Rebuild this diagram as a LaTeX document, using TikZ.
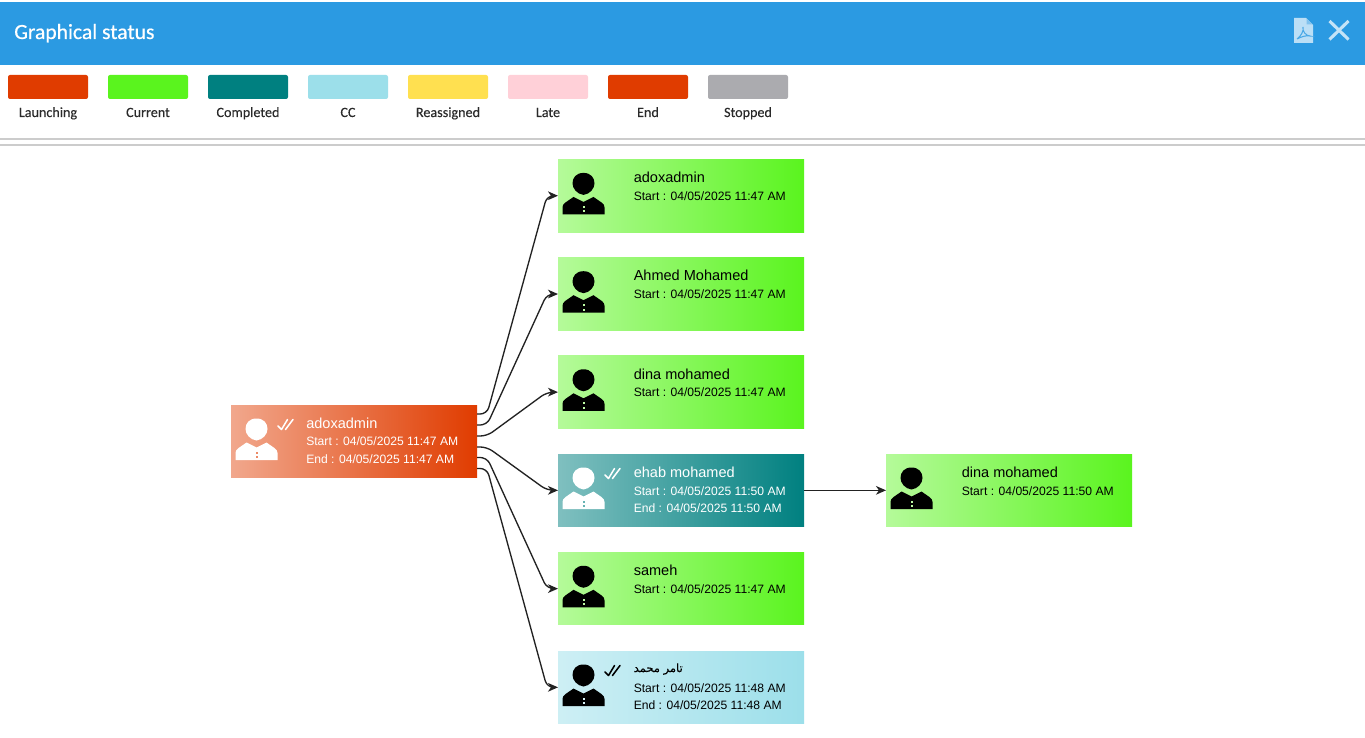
\documentclass[tikz,border=0pt]{standalone}
\usepackage{fontspec}
\setmainfont{Liberation Sans}
\newfontfamily\uifont[FakeBold=0.15]{Carlito}
\newfontfamily\titlefont[FakeBold=0.5]{Carlito}
\newfontfamily\arabicfont[Script=Arabic,FakeBold=0.2]{DejaVu Sans}
\TeXXeTstate=1
\usetikzlibrary{calc,arrows.meta}
\definecolor{hdr}{HTML}{2B9AE2}
\definecolor{cLaunch}{HTML}{E03C00}
\definecolor{cCurrent}{HTML}{5AF41E}
\definecolor{cDone}{HTML}{008080}
\definecolor{cCC}{HTML}{9CDFEA}
\definecolor{cRe}{HTML}{FFE050}
\definecolor{cLate}{HTML}{FFD0D8}
\definecolor{cStop}{HTML}{ABABAF}
\definecolor{ink}{HTML}{222222}
\definecolor{lbl}{HTML}{2A2A2A}
\tikzset{
  x=0.75pt,y=-0.75pt,
  swatch/.style={rectangle,rounded corners=1.5pt,minimum width=60pt,minimum height=18pt,inner sep=0,outer sep=0,anchor=north west},
  swatchlabel/.style={font=\uifont\fontsize{10.6pt}{12pt}\selectfont,text=lbl,inner sep=0,anchor=base},
  card/.style={rectangle,minimum width=184.5pt,minimum height=54.5pt,inner sep=0,outer sep=0,anchor=north west},
  launchcard/.style={card,left color=cLaunch!45!white,right color=cLaunch},
  currentcard/.style={card,left color=cCurrent!45!white,right color=cCurrent},
  donecard/.style={card,left color=cDone!50!white,right color=cDone},
  cccard/.style={card,left color=cCC!50!white,right color=cCC},
  cardname/.style={anchor=base west,inner sep=0,font=\fontsize{10.9pt}{12pt}\selectfont},
  carddate/.style={anchor=base west,inner sep=0,font=\fontsize{9.1pt}{11pt}\selectfont},
  conn/.style={ink,line width=1pt,-{Stealth[length=7.5pt,width=6.5pt,inset=2.2pt]}},
  elbow/.style={conn,rounded corners=5pt},
}
\newcommand\personicon[3]{%
  \begin{scope}[shift={(#1.north west)}]
    \fill[#2] (25.5,13.5) .. controls (33,13.5) and (36.5,18.5) .. (36.5,24)
      .. controls (36.5,29) and (32,34.8) .. (25.5,35.5)
      .. controls (19,34.8) and (14.5,29) .. (14.5,24)
      .. controls (14.5,18.5) and (18,13.5) .. (25.5,13.5) -- cycle;
    \fill[#2] (4.5,55) -- (4.5,48) .. controls (4.5,44) and (8,43) .. (15.5,37.5) -- (25.5,42.5) -- (35.5,37.5)
      .. controls (43,43) and (46.5,44) .. (46.5,48) -- (46.5,55) -- cycle;
    \fill[#3] (24.5,46.5) rectangle (26.5,48.5);
    \fill[#3] (24.5,51) rectangle (26.5,53);
  \end{scope}}
\newcommand\doublecheck[2]{%
  \begin{scope}[shift={(#1.north west)}]
    \draw[#2,line width=1.15pt,line cap=round,line join=round] (47,21) -- (50.5,24.5) -- (56.5,14.5);
    \draw[#2,line width=1.15pt,line cap=round] (54.5,24.5) -- (62,14.5);
  \end{scope}}
\begin{document}
\begin{tikzpicture}
\useasboundingbox (0,0) rectangle (1365,738);
\fill[white] (0,0) rectangle (1365,738);
% header
\fill[hdr] (0,2) rectangle (1365,65);
\node[anchor=base west,inner sep=0,text=white,font=\titlefont\fontsize{16.2pt}{18pt}\selectfont] (title) at (14,39) {Graphical status};
% pdf icon
\fill[white!68!hdr] (1294,18) -- (1306,18) -- (1313,25) -- (1313,43) -- (1294,43) -- cycle;
\fill[hdr!60!white] (1306.5,18.5) -- (1306.5,24.5) -- (1312.5,24.5) -- cycle;
\draw[hdr!85!white,line width=0.8pt] (1297,39) .. controls (1301,36) and (1304,31) .. (1303,27) .. controls (1302,31) and (1306,36) .. (1310,36) .. controls (1306,35) and (1301,37) .. (1297,39);
% close icon
\draw[white!72!hdr,line width=2.3pt] (1329.5,21) -- (1348.5,39.5) (1348.5,21) -- (1329.5,39.5);
% legend
\foreach \nm/\xx/\col/\txt in {a/8/cLaunch/Launching,b/108/cCurrent/Current,c/208/cDone/Completed,d/308/cCC/CC,e/408/cRe/Reassigned,f/508/cLate/Late,g/608/cLaunch/End,h/708/cStop/Stopped}{
  \node[swatch,fill=\col] (sw\nm) at (\xx,75) {};
  \node[swatchlabel] (lb\nm) at (\xx+40,117) {\txt};
}
% separators
\draw[black!20,line width=1.2pt] (0,139) -- (1365,139);
\draw[black!20,line width=1.2pt] (0,145) -- (1365,145);
% cards
\node[launchcard] (root) at (231,405) {};
\node[currentcard] (n1) at (558,159.4) {};
\node[currentcard] (n2) at (558,257.7) {};
\node[currentcard] (n3) at (558,355.8) {};
\node[donecard] (n4) at (558,454) {};
\node[currentcard] (n5) at (558,552.3) {};
\node[cccard] (n6) at (558,651) {};
\node[currentcard] (n7) at (886,454) {};
% icons
\personicon{root}{white}{cLaunch!60!white}
\doublecheck{root}{white}
\personicon{n1}{black}{cCurrent!40!white}
\personicon{n2}{black}{cCurrent!40!white}
\personicon{n3}{black}{cCurrent!40!white}
\personicon{n4}{white}{cDone!60!white}
\doublecheck{n4}{white}
\personicon{n5}{black}{cCurrent!40!white}
\personicon{n6}{black}{cCC!40!white}
\doublecheck{n6}{black}
\personicon{n7}{black}{cCurrent!40!white}
% texts
\node[cardname,text=white] (t0) at ($(root.north west)+(75,23)$) {adoxadmin};
\node[carddate,text=white] (s0) at ($(root.north west)+(75,40.8)$) {Start : 04/05/2025 11:47 AM};
\node[carddate,text=white] (e0) at ($(root.north west)+(75,58.3)$) {End : 04/05/2025 11:47 AM};
\node[cardname] (t1) at ($(n1.north west)+(75.5,23.3)$) {adoxadmin};
\node[carddate] (s1) at ($(n1.north west)+(75.5,41)$) {Start : 04/05/2025 11:47 AM};
\node[cardname] (t2) at ($(n2.north west)+(75.5,23)$) {Ahmed Mohamed};
\node[carddate] (s2) at ($(n2.north west)+(75.5,41)$) {Start : 04/05/2025 11:47 AM};
\node[cardname] (t3) at ($(n3.north west)+(75.5,23.3)$) {dina mohamed};
\node[carddate] (s3) at ($(n3.north west)+(75.5,41)$) {Start : 04/05/2025 11:47 AM};
\node[cardname,text=white] (t4) at ($(n4.north west)+(75.5,23)$) {ehab mohamed};
\node[carddate,text=white] (s4) at ($(n4.north west)+(75.5,41)$) {Start : 04/05/2025 11:50 AM};
\node[carddate,text=white] (e4) at ($(n4.north west)+(75.5,58.3)$) {End : 04/05/2025 11:50 AM};
\node[cardname] (t5) at ($(n5.north west)+(75.5,23.3)$) {sameh};
\node[carddate] (s5) at ($(n5.north west)+(75.5,41)$) {Start : 04/05/2025 11:47 AM};
\node[cardname,font=\arabicfont\fontsize{8.6pt}{10pt}\selectfont] (t6) at ($(n6.north west)+(75.5,21)$) {\beginR تامر محمد\endR};
\node[carddate] (s6) at ($(n6.north west)+(75.5,41)$) {Start : 04/05/2025 11:48 AM};
\node[carddate] (e6) at ($(n6.north west)+(75.5,58.3)$) {End : 04/05/2025 11:48 AM};
\node[cardname] (t7) at ($(n7.north west)+(75.5,23)$) {dina mohamed};
\node[carddate] (s7) at ($(n7.north west)+(75.5,41)$) {Start : 04/05/2025 11:50 AM};
% connectors
\foreach \i/\dy in {1/9,2/20,3/31,4/42,5/52.5,6/63.5}{
  \coordinate (r\i) at ($(root.north east)+(0,\dy)$);
  \draw[elbow] (r\i) -- ++(10,0) -- ($(n\i.west)+(-11,0)$) -- (n\i.west);
}
\draw[conn] (n4.east) -- (n7.west);
\end{tikzpicture}
\end{document}
